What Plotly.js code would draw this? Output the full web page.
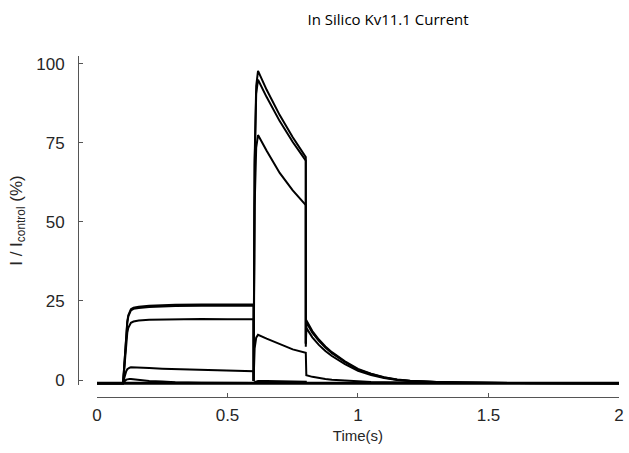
<!DOCTYPE html>
<html>
<head>
<meta charset="utf-8">
<script src="https://cdn.plot.ly/plotly-3.0.1.min.js"></script>
<style>html,body{margin:0;padding:0;background:#fff;}#chart{width:629px;height:453px;}</style>
</head>
<body>
<div id="chart"></div>
<script>
// Shared time samples (s); repeated times mark the instantaneous jumps at 0.6 s and 0.8 s
const time = [0, 0.1, 0.104, 0.108, 0.112, 0.116, 0.12, 0.125, 0.13, 0.14, 0.16, 0.2, 0.25, 0.3, 0.4, 0.5, 0.6,
  0.6, 0.604, 0.61, 0.617, 0.65, 0.7, 0.75, 0.8,
  0.8, 0.802, 0.825, 0.85, 0.875, 0.9, 0.95, 1.0, 1.05, 1.1, 1.15, 1.2, 1.3, 1.4, 1.6, 2.0];

// Normalised current I / I_control (%) for each simulated condition
const currentA = [-1.0, -1.0, 4.0, 10.0, 15.5, 18.5, 20.5, 21.8, 22.4, 22.9, 23.2, 23.5, 23.7, 23.8, 23.9, 24.0, 24.0,
  -0.2, 70.0, 93.0, 97.8, 91.8, 83.8, 76.8, 70.5,
  11.6, 18.9, 15.5, 12.8, 10.6, 8.8, 5.9, 3.5, 2.0, 0.9, 0.2, -0.2, -0.6, -0.8, -0.95, -1.0];
const currentB = [-1.0, -1.0, 3.8, 9.7, 15.1, 18.1, 20.1, 21.4, 22.0, 22.5, 22.8, 23.1, 23.3, 23.4, 23.5, 23.5, 23.5,
  -0.2, 68.0, 90.5, 95.0, 89.5, 81.9, 75.3, 69.4,
  11.4, 18.3, 15.0, 12.4, 10.3, 8.5, 5.7, 3.3, 1.9, 0.8, 0.1, -0.3, -0.6, -0.8, -0.95, -1.0];
const currentC = [-1.0, -1.0, 3.0, 7.8, 12.3, 14.9, 16.5, 17.6, 18.1, 18.5, 18.8, 19.1, 19.2, 19.3, 19.3, 19.2, 19.2,
  -0.3, 55.0, 73.5, 77.5, 72.5, 65.5, 60.0, 55.3,
  10.5, 16.5, 13.5, 11.1, 9.2, 7.6, 5.0, 2.9, 1.6, 0.6, 0.0, -0.3, -0.6, -0.8, -0.95, -1.0];
const currentD = [-1.0, -1.0, 0.5, 1.8, 2.8, 3.4, 3.7, 3.9, 4.0, 4.0, 3.9, 3.8, 3.6, 3.5, 3.2, 3.0, 2.8,
  -0.3, 10.0, 13.4, 14.3, 13.1, 11.3, 9.7, 8.6,
  1.8, 1.5, 1.0, 0.6, 0.3, 0.1, -0.2, -0.4, -0.6, -0.7, -0.8, -0.85, -0.9, -0.95, -1.0, -1.0];
const currentE = [-1.0, -1.0, -0.6, -0.2, 0.1, 0.2, 0.3, 0.3, 0.3, 0.2, 0.0, -0.3, -0.5, -0.7, -0.85, -0.9, -0.95,
  -0.95, -0.7, -0.45, -0.3, -0.35, -0.4, -0.5, -0.55,
  -0.9, -0.9, -0.95, -0.95, -0.95, -1.0, -1.0, -1.0, -1.0, -1.0, -1.0, -1.0, -1.0, -1.0, -1.0, -1.0];
const currentF = [-1.0, -1.0, -1.0, -1.0, -1.0, -1.0, -1.0, -1.0, -1.0, -1.0, -1.0, -1.0, -1.0, -1.0, -1.0, -1.0, -1.0,
  -1.0, -1.0, -1.0, -1.0, -1.0, -1.0, -1.0, -1.0,
  -1.0, -1.0, -1.0, -1.0, -1.0, -1.0, -1.0, -1.0, -1.0, -1.0, -1.0, -1.0, -1.0, -1.0, -1.0, -1.0];

const series = [currentF, currentE, currentD, currentC, currentB, currentA];
const xTickVals = [0, 0.5, 1, 1.5, 2];
const xTickText = ['0', '0.5', '1', '1.5', '2'];
const yTickVals = [0, 25, 50, 75, 100];
const yTickText = ['0', '25', '50', '75', '100'];

const traces = series.map((s, i) => ({
  x: time, y: s, type: 'scatter', mode: 'lines',
  line: {color: '#000000', width: i === 0 ? 3 : 2},
  hoverinfo: 'skip', showlegend: false
}));

const axisColor = '#555555';
const textColor = '#262626';
const layout = {
  width: 629, height: 453,
  margin: {l: 78, r: 10, t: 56, b: 56},
  paper_bgcolor: '#ffffff', plot_bgcolor: '#ffffff',
  showlegend: false,
  title: {
    text: 'In Silico Kv11.1 Current',
    font: {family: 'Open Sans', size: 15, color: '#000000'},
    xref: 'container', x: 0.617, xanchor: 'center',
    yref: 'container', y: 0.956, yanchor: 'middle'
  },
  xaxis: {
    domain: [0.0351, 1], range: [0, 2],
    anchor: 'free', position: 0,
    showgrid: false, zeroline: false,
    showline: true, linecolor: axisColor, linewidth: 1,
    ticks: 'inside', ticklen: 4, tickcolor: axisColor, tickwidth: 1,
    tickvals: xTickVals, ticktext: xTickText,
    ticklabelstandoff: 3,
    tickfont: {family: 'Liberation Sans', size: 17, color: textColor},
    title: {text: 'Time(s)', font: {family: 'Liberation Sans', size: 15, color: textColor}, standoff: 6}
  },
  yaxis: {
    domain: [0.035, 1], range: [-1.6, 102.5],
    anchor: 'free', position: 0,
    showgrid: false, zeroline: false,
    showline: true, linecolor: axisColor, linewidth: 1,
    ticks: 'inside', ticklen: 4, tickcolor: axisColor, tickwidth: 1,
    tickvals: yTickVals, ticktext: yTickText,
    ticklabelstandoff: 10,
    tickfont: {family: 'Liberation Sans', size: 17, color: textColor},
    title: {text: 'I / I<sub>control</sub> (%)', font: {family: 'Liberation Sans', size: 17, color: textColor}, standoff: 8}
  }
};

Plotly.newPlot('chart', traces, layout, {displayModeBar: false, staticPlot: true});
</script>
</body>
</html>
